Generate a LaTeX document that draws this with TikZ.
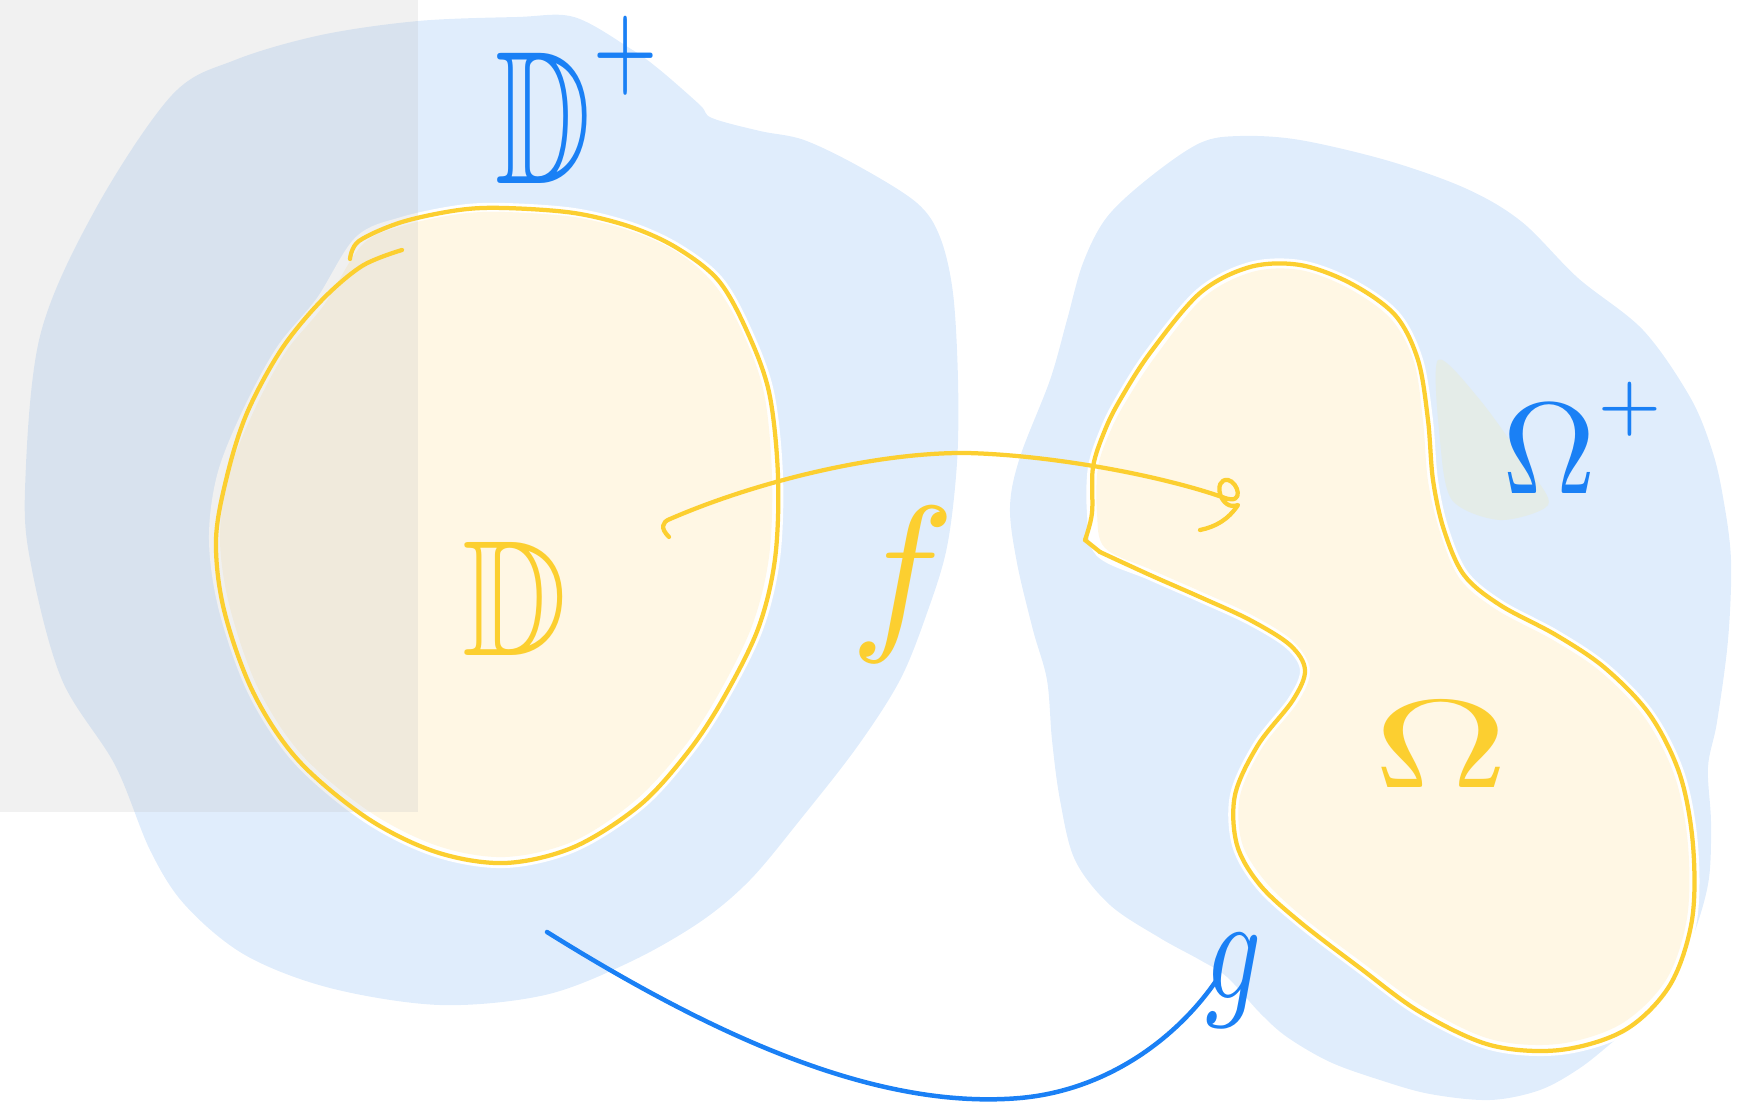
\documentclass[tikz,border=0pt]{standalone}
\usepackage{amssymb}
\definecolor{blobblue}{RGB}{224,237,252}
\definecolor{creamy}{RGB}{255,247,228}
\definecolor{wedge}{RGB}{228,236,232}
\definecolor{ystroke}{RGB}{252,207,48}
\definecolor{bstroke}{RGB}{26,128,245}
\definecolor{greyov}{RGB}{193,193,193}
\tikzset{
  blob/.style={fill=blobblue, draw=none},
  halo/.style={fill=white, draw=white, line width=4pt, line join=round},
  creamfill/.style={fill=creamy, draw=none},
  yline/.style={draw=ystroke, line width=1.7pt, line cap=round, line join=round},
  bline/.style={draw=bstroke, line width=1.8pt, line cap=round, line join=round},
  ylab/.style={text=ystroke, font=\fontsize{10}{12}\selectfont, inner sep=0pt},
  blab/.style={text=bstroke, font=\fontsize{10}{12}\selectfont, inner sep=0pt},
}
\begin{document}
\begin{tikzpicture}[x=0.4pt,y=-0.4pt]
\useasboundingbox (0,0) rectangle (1742,1107);
% left blob
\path[blob] plot[smooth cycle, tension=0.55] coordinates {
 (418,21) (517,17) (574,17) (631,49) (660,70) (700,105) (712,118) (760,131)
 (804,140) (860,167) (917,203) (940,237) (953,293) (958,380) (957,463)
 (947,547) (927,613) (900,680) (857,747) (800,820) (750,880) (700,922)
 (630,962) (545,995) (440,1005) (330,988) (245,955) (185,905) (150,850)
 (115,765) (62,680) (32,570) (25,490) (40,336) (95,210) (172,95) (235,60) (321,35)};
% right blob
\path[blob] plot[smooth cycle, tension=0.55] coordinates {
 (1047,680) (1033,630) (1017,563) (1010,507) (1020,457) (1050,380) (1067,320)
 (1083,263) (1107,217) (1150,177) (1200,143) (1240,136) (1300,140) (1389,161)
 (1467,189) (1522,222) (1578,278) (1643,330) (1690,397) (1712,450) (1723,497)
 (1731,560) (1728,640) (1717,722) (1708,767) (1711,822) (1709,878) (1697,925)
 (1677,975) (1648,1012) (1615,1040) (1580,1068) (1540,1090) (1490,1100)
 (1430,1094) (1380,1080) (1330,1062) (1287,1037) (1260,1013) (1227,977)
 (1200,960) (1160,938) (1110,905) (1075,860) (1060,800) (1052,740)};
% halos and cream fills
\path[halo] plot[smooth cycle, tension=0.55] coordinates {
 (359,241) (402,222) (459,210) (505,208) (574,213) (631,227) (677,248) (718,280)
 (746,329) (769,392) (778,476) (775,559) (758,629) (723,699) (688,752) (640,805)
 (574,847) (505,863) (436,852) (367,818) (298,760) (253,692) (224,610) (214,540)
 (222,476) (247,413) (281,350) (321,301)};
\path[creamfill] plot[smooth cycle, tension=0.55] coordinates {
 (362,245) (402,226) (459,214) (505,212) (574,217) (631,231) (677,252) (714,284)
 (742,331) (764,393) (772,476) (769,557) (752,626) (718,695) (684,747) (637,799)
 (574,841) (505,857) (438,846) (370,812) (302,755) (258,688) (230,608) (220,540)
 (228,477) (252,415) (285,353) (324,305)};
\path[halo] plot[smooth cycle, tension=0.55] coordinates {
 (1092,513) (1093,467) (1105,430) (1120,400) (1150,353) (1200,293) (1250,267)
 (1300,265) (1350,283) (1395,315) (1418,360) (1428,420) (1433,480) (1444,530)
 (1464,575) (1500,605) (1556,635) (1605,668) (1650,715) (1680,775) (1693,845)
 (1692,920) (1670,985) (1625,1030) (1560,1050) (1490,1045) (1420,1012) (1360,968)
 (1300,922) (1260,885) (1237,845) (1235,795) (1258,745) (1293,700) (1305,670)
 (1290,645) (1250,620) (1200,597) (1150,575) (1100,552)};
\path[creamfill] plot[smooth cycle, tension=0.55] coordinates {
 (1097,513) (1098,467) (1110,432) (1125,403) (1155,357) (1203,298) (1252,272)
 (1300,270) (1348,288) (1391,319) (1414,362) (1423,421) (1428,481) (1440,532)
 (1460,579) (1497,610) (1553,640) (1601,672) (1645,718) (1675,777) (1688,845)
 (1687,918) (1666,980) (1621,1024) (1558,1044) (1490,1039) (1422,1006) (1363,963)
 (1304,918) (1265,881) (1242,843) (1240,796) (1262,748) (1298,702) (1310,670)
 (1293,641) (1252,615) (1202,592) (1152,570) (1105,548)};
\path[fill=wedge] plot[smooth cycle, tension=0.5] coordinates {
 (1438,360) (1480,400) (1530,470) (1548,505) (1500,520) (1452,500) (1440,440)};
% grey overlay
\fill[greyov, fill opacity=0.226] (0,0) rectangle (418,812);
% D outline
\draw[yline] plot[smooth, tension=0.55] coordinates {
 (350,259) (359,241) (402,222) (459,210) (505,208) (574,213) (631,227) (677,248)
 (718,280) (746,329) (769,392) (778,476) (775,559) (758,629) (723,699) (688,752)
 (640,805) (574,847) (505,863) (436,852) (367,818) (298,760) (253,692) (224,610)
 (216,540) (227,476) (247,413) (281,350) (321,301) (362,266) (402,250)};
% Omega outline
\draw[yline] plot[smooth, tension=0.55] coordinates {
 (1100,552) (1150,575) (1200,597) (1250,620) (1290,645) (1305,670) (1293,700)
 (1258,745) (1235,795) (1237,845) (1260,885) (1300,922) (1360,968) (1420,1012)
 (1490,1045) (1560,1050) (1625,1030) (1670,985) (1692,920) (1693,845) (1680,775)
 (1650,715) (1605,668) (1556,635) (1500,605) (1464,575) (1444,530) (1433,480)
 (1428,420) (1418,360) (1395,315) (1350,283) (1300,265) (1250,267) (1200,293)
 (1150,353) (1120,400) (1105,430) (1093,467) (1092,513) (1085,540)};
\draw[yline] (1085,540) -- (1100,552);
% labels
\node[blab, xscale=5.3, yscale=7.6, anchor=base west] (dplus) at (493,183)
  {$\mathbb{D}^{\raisebox{1.8pt}{$\scriptscriptstyle+$}}$};
\node[ylab, xscale=5.8, yscale=6.6, anchor=base west] (dlab) at (460,655) {$\mathbb{D}$};
\node[ylab, scale=7, anchor=center] (flab) at (903,585) {$f$};
\node[blab, scale=5.2, anchor=base west] (oplus) at (1500,493)
  {$\Omega^{\raisebox{1.6pt}{$\scriptscriptstyle+$}}$};
\node[ylab, xscale=7.5, yscale=5, anchor=base west] (olab) at (1370,787) {$\Omega$};
\node[blab, xscale=4.4, yscale=6, anchor=base] (glab) at (1234,998) {$g$};
% map arcs
\coordinate (fstart) at (669,537);
\coordinate (fend) at (1200,530);
\draw[yline] (fstart) .. controls (660,528) and (662,522) .. (670,519)
  .. controls (760,480) and (880,452) .. (967,453)
  .. controls (1050,455) and (1160,475) .. (1225,498)
  .. controls (1245,505) and (1238,482) .. (1228,480)
  .. controls (1212,478) and (1220,512) .. (1238,505)
  .. controls (1228,520) and (1215,527) .. (fend);
\coordinate (gstart) at (547,932);
\coordinate (gend) at (1218,978);
\draw[bline] (gstart) .. controls (720,1040) and (880,1110) .. (1020,1098)
  .. controls (1110,1090) and (1180,1035) .. (gend);
\end{tikzpicture}
\end{document}
